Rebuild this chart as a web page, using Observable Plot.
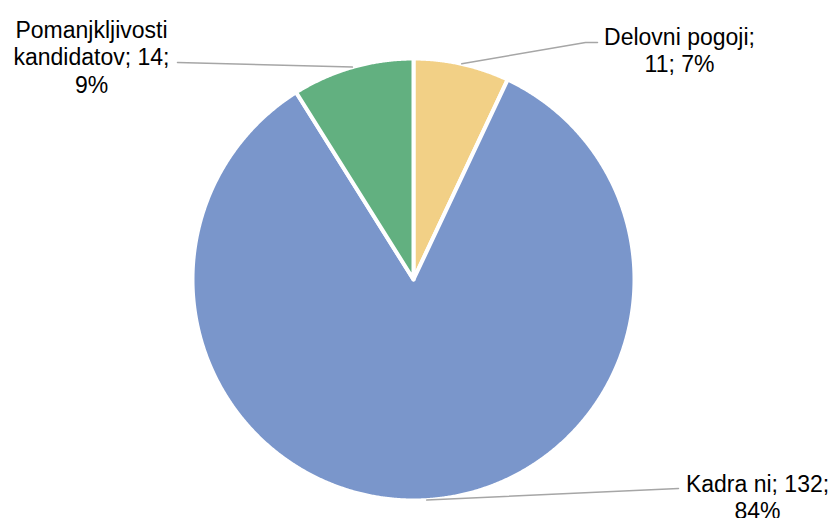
<!DOCTYPE html>
<html>
<head>
<meta charset="utf-8">
<script src="https://cdn.jsdelivr.net/npm/d3@7"></script>
<script src="https://cdn.jsdelivr.net/npm/@observablehq/plot@0.6"></script>
<style>
  html, body { margin: 0; padding: 0; background: #fff; }
  #chart svg { display: block; }
</style>
</head>
<body>
<div id="chart"></div>
<script>
// Data
const categories = ["Delovni pogoji", "Kadra ni", "Pomanjkljivosti kandidatov"];
const values = [11, 132, 14];
const percents = ["7%", "84%", "9%"];
const colors = ["#F2D086", "#7A96CB", "#62B080"];
const labelLines = [
  ["Delovni pogoji;", "11; 7%"],
  ["Kadra ni; 132;", "84%"],
  ["Pomanjkljivosti", "kandidatov; 14;", "9%"]
];

// Layout (pixel geometry)
const W = 837, H = 518;
const CX = 413, CY = 279, R = 221;
const toX = px => (px - CX) / R;
const toY = py => (CY - py) / R;
// label block centres (px) and leader elbow points (px)
const labelPos = [
  {x: 679, top: 25.5, elbow: [[585, 42], [597, 42]]},
  {x: 757, top: 472.5, elbow: [[678, 488]]},
  {x: 91, top: 18.5, elbow: [[177, 62]]}
];

const pie = d3.pie().sort(null).value(d => d.value)(
  categories.map((c, i) => ({name: c, value: values[i]}))
);

// slice polygons
const slicePts = [];
pie.forEach(p => {
  const n = Math.max(2, Math.ceil((p.endAngle - p.startAngle) / 0.005));
  slicePts.push({name: p.data.name, x: 0, y: 0});
  for (let k = 0; k <= n; k++) {
    const a = p.startAngle + (p.endAngle - p.startAngle) * k / n;
    slicePts.push({name: p.data.name, x: Math.sin(a), y: Math.cos(a)});
  }
  slicePts.push({name: p.data.name, x: 0, y: 0});
});

// leader lines
const leaderPts = [];
pie.forEach((p, i) => {
  const a = (p.startAngle + p.endAngle) / 2;
  leaderPts.push({name: p.data.name, x: Math.sin(a), y: Math.cos(a)});
  labelPos[i].elbow.forEach(([px, py]) => leaderPts.push({name: p.data.name, x: toX(px), y: toY(py)}));
});

const labels = categories.map((c, i) => ({
  text: labelLines[i].join("\n"),
  x: toX(labelPos[i].x),
  y: toY(labelPos[i].top)
}));

const chart = Plot.plot({
  width: W,
  height: H,
  margin: 0,
  x: {domain: [toX(0), toX(W)], range: [0, W], axis: null},
  y: {domain: [toY(H), toY(0)], range: [H, 0], axis: null},
  color: {domain: categories, range: colors},
  style: {fontFamily: "'Liberation Sans', Arial, sans-serif", background: "#fff"},
  marks: [
    Plot.line(slicePts, {x: "x", y: "y", z: "name", fill: "name", stroke: "white", strokeWidth: 4, strokeLinejoin: "round", curve: "linear"}),
    Plot.line(leaderPts, {x: "x", y: "y", z: "name", stroke: "#A6A6A6", strokeWidth: 1.5}),
    Plot.text(labels, {x: "x", y: "y", text: "text", textAnchor: "middle", lineAnchor: "top", lineHeight: 1.18, fontSize: 23, fill: "#000"})
  ]
});
document.getElementById("chart").appendChild(chart);
</script>
</body>
</html>
